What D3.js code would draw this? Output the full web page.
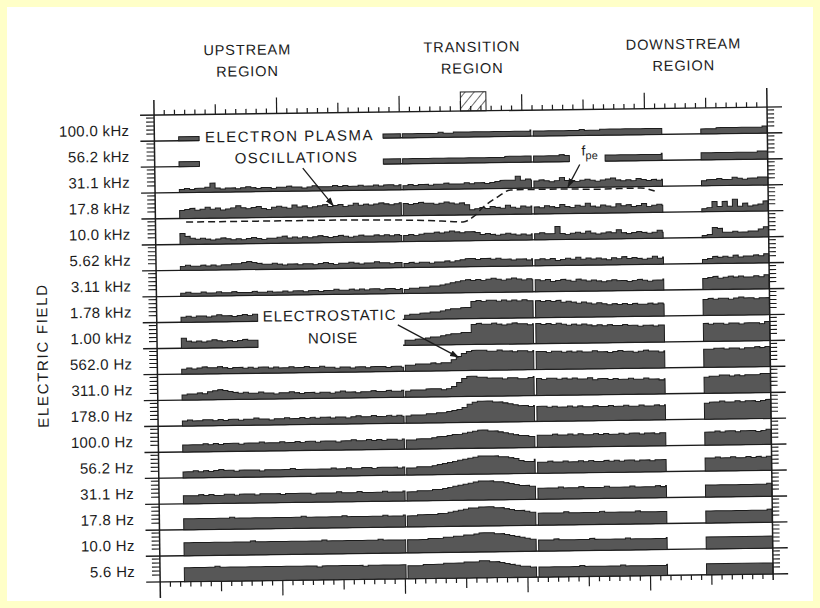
<!DOCTYPE html>
<html><head><meta charset="utf-8">
<script src="https://cdn.jsdelivr.net/npm/d3@7"></script>
<style>
html,body{margin:0;padding:0;background:#ffffc8;}
svg{display:block;}
text{font-family:"Liberation Sans",Arial,sans-serif;fill:#1c1c1c;}
</style></head><body>
<svg id="chart" width="820" height="608"></svg>
<script>
const _ = null;
// Channel labels (top to bottom)
const channelLabels = ["100.0 kHz","56.2 kHz","31.1 kHz","17.8 kHz","10.0 kHz","5.62 kHz","3.11 kHz","1.78 kHz","1.00 kHz",
  "562.0 Hz","311.0 Hz","178.0 Hz","100.0 Hz","56.2 Hz","31.1 Hz","17.8 Hz","10.0 Hz","5.6 Hz"];
const regionLabels = [["UPSTREAM","REGION"],["TRANSITION","REGION"],["DOWNSTREAM","REGION"]];
const regionCenters = [9.2, 31.2, 51.9];   // time units
// Time axis (arbitrary time units)
const timeDomain = [0, 60];
const segStarts = [2.38, 24.27, 37.09, 53.49];
const segEnds   = [24.08, 36.85, 49.67, 60];
const sampleStep = 0.5;
const transitionShade = [30, 32.5];
// plasma frequency (dashed curve)
const fpeTime = [3.0, 10, 17, 24, 28, 30.1, 31.1, 32.1, 33.5, 34.8, 37, 39.6, 43.5, 47.5, 48.9];
const fpeKHz  = [16.4, 16.4, 16.4, 16.1, 15.6, 15.2, 16.9, 21.0, 26.1, 30.4, 30.6, 30.6, 30.2, 30.6, 28.5];

// amplitude per channel, four data segments each (sampled every 0.5 time units)
const amp_100_0kHz = [
 [4,4,4,4,_,_,_,_,_,_,_,_,_,_,_,_,_,_,_,_,_,_,_,_,_,_,_,_,_,_,_,_,_,_,_,_,_,_,_,_,4,4,4,4],
 [4,4,4,4,4,4,4,5,4,4,5,5,5,5,5,5,5,5,5,5,5,5,5,5,5,6],
 [5,5,5,5,5,5,5,5,5,6,5,5,5,6,6,6,6,6,6,6,6,6,6,6,6,6],
 [5,5,5,6,6,6,6,6,6,6,6,6,7]];
const amp_56_2kHz = [
 [5,5,5,5,_,_,_,_,_,_,_,_,_,_,_,_,_,_,_,_,_,_,_,_,_,_,_,_,_,_,_,_,_,_,_,_,_,_,_,_,5,5,5,5],
 [5,5,5,5,5,5,5,5,5,5,5,5,5,5,5,5,5,5,5,5,6,6,6,6,6,6],
 [6,6,6,6,6,7,6,_,_,_,_,_,_,_,6,6,6,6,6,6,6,6,6,6,6,7],
 [7,7,7,7,7,7,7,7,7,7,7,8,8]];
const amp_31_1kHz = [
 [3,4,3,4,4,5,9,4,3,4,4,3,4,5,4,3,4,4,3,4,4,5,4,4,3,4,5,4,4,4,5,4,5,4,4,5,4,4,5,4,5,5,4,5],
 [4,5,4,5,5,4,5,5,6,5,5,5,6,5,6,6,5,6,7,8,8,8,12,8,9,8],
 [7,8,7,6,7,10,7,7,6,7,8,7,6,7,8,9,7,6,7,6,8,7,6,7,6,7],
 [5,6,6,7,6,6,8,7,6,7,7,8,8]];
const amp_17_8kHz = [
 [8,9,10,8,9,11,9,10,8,9,10,12,10,9,10,11,9,8,10,11,10,9,12,10,11,9,10,11,12,10,11,12,10,11,13,11,12,11,12,13,12,11,12,13],
 [12,11,12,13,12,12,11,12,13,12,11,12,10,5,6,7,6,8,7,6,9,7,6,8,7,8],
 [7,6,8,7,6,9,7,6,8,7,10,7,6,8,7,6,9,7,8,6,7,9,6,7,8,7],
 [3,4,10,5,10,5,12,5,8,5,6,7,10]];
const amp_10_0kHz = [
 [11,8,6,5,6,5,4,5,6,5,4,5,4,5,6,5,4,5,5,6,7,5,6,5,6,5,6,7,6,5,6,7,6,5,6,7,6,6,7,6,7,6,7,6],
 [6,7,6,7,8,8,9,8,9,10,9,8,9,9,8,6,7,6,5,6,7,6,5,6,5,6],
 [6,7,6,6,13,6,5,6,7,6,8,6,5,6,7,6,9,6,5,6,7,6,5,6,8,6],
 [2,3,10,9,5,5,6,5,5,6,6,8,10]];
const amp_5_62kHz = [
 [4,5,4,4,5,4,5,4,5,5,6,6,7,8,7,6,5,5,6,5,4,5,5,4,5,5,4,5,6,5,4,5,5,6,5,4,5,5,6,5,5,4,5,5],
 [4,5,4,5,5,4,5,5,6,5,6,7,8,8,7,8,8,7,8,7,7,6,7,7,6,7],
 [6,7,6,7,5,6,7,6,8,6,7,6,7,6,5,7,6,8,6,7,6,5,6,8,6,7],
 [4,5,7,6,7,6,8,6,7,7,8,7,9]];
const amp_3_11kHz = [
 [3,4,3,3,4,3,3,4,3,3,4,3,3,3,4,3,3,4,3,3,4,3,4,4,3,4,4,3,4,4,5,4,4,5,4,5,4,5,5,4,5,5,4,5],
 [4,5,5,6,6,7,7,8,9,10,11,12,13,12,13,12,13,14,13,12,13,14,13,12,13,12],
 [12,11,12,10,11,12,11,10,12,11,10,11,10,9,10,11,10,10,9,10,11,10,9,10,10,11],
 [11,12,13,11,12,13,12,13,12,12,13,12,14]];
const amp_1_78kHz = [
 [5,6,5,6,6,5,6,7,6,6,5,6,7,6,7,_,_,_,_,_,_,_,_,_,_,_,_,_,_,_,_,_,_,_,_,_,_,_,_,_,_,_,_,_],
 [4,5,5,6,6,7,7,8,9,10,10,11,11,17,18,17,18,18,17,18,17,18,17,18,17,17],
 [17,16,17,16,17,15,16,15,14,15,14,13,14,13,12,13,12,13,12,13,12,12,13,12,13,12],
 [16,17,16,17,17,16,17,18,17,17,16,17,17]];
const amp_1_00kHz = [
 [10,7,6,7,6,7,8,7,6,7,6,7,8,7,7,_,_,_,_,_,_,_,_,_,_,_,_,_,_,_,_,_,_,_,_,_,_,_,_,_,_,_,_,_],
 [5,5,6,6,7,8,8,9,10,11,11,12,12,20,21,20,20,21,20,19,20,21,20,20,19,20],
 [20,19,20,19,20,19,18,19,18,19,18,17,18,17,18,17,17,18,17,17,16,17,17,16,17,17],
 [18,17,18,18,17,18,18,17,18,18,18,17,19]];
const amp_562Hz = [
 [5,6,5,6,7,6,6,7,6,5,6,6,5,6,5,6,6,5,6,5,5,6,5,5,6,5,5,6,5,5,4,5,5,4,5,5,4,5,5,5,4,5,5,4],
 [6,6,7,7,7,8,7,8,8,11,14,17,19,20,20,20,19,19,20,19,19,18,19,19,18,19],
 [18,18,17,18,18,17,18,17,18,17,17,18,17,17,16,17,18,17,17,16,17,18,17,17,16,17],
 [18,18,19,19,18,19,19,18,19,19,20,19,20]];
const amp_311Hz = [
 [5,6,6,7,6,8,9,10,9,8,7,6,7,6,6,7,6,6,5,6,6,7,6,5,6,6,5,6,6,5,6,7,6,6,5,6,6,7,6,6,7,6,6,7],
 [6,7,7,7,8,8,8,7,8,10,14,18,20,20,19,19,18,18,18,17,18,18,17,17,18,19],
 [17,16,17,17,16,17,16,17,16,16,17,15,16,16,15,16,15,15,16,15,15,16,15,15,14,15],
 [16,17,17,18,18,17,18,17,18,18,18,19,19]];
const amp_178Hz = [
 [5,6,5,5,6,6,5,6,5,6,6,5,6,6,7,6,6,5,6,6,7,6,6,7,6,7,6,7,7,6,7,7,6,7,8,7,7,8,7,7,8,7,8,7],
 [7,8,8,8,9,9,10,10,11,12,13,15,18,20,21,21,21,20,20,19,18,17,16,16,15,16],
 [15,15,14,15,14,14,15,14,15,14,14,15,14,14,15,14,14,15,14,14,15,14,14,15,14,15],
 [16,17,17,18,17,17,18,17,18,18,17,18,19]];
const amp_100Hz = [
 [7,7,7,7,8,7,8,7,8,8,8,7,8,8,8,9,8,8,8,9,8,8,9,8,9,9,8,9,9,9,8,9,9,10,9,9,10,9,10,9,10,10,9,10],
 [9,9,10,10,10,11,12,12,13,14,14,15,16,17,18,18,17,17,16,15,14,13,12,12,11,11],
 [12,12,12,13,12,12,13,12,13,12,12,13,12,13,12,12,13,12,13,13,12,13,13,12,13,13],
 [13,13,14,13,14,14,13,14,14,14,13,14,15]];
const amp_56_2Hz = [
 [6,6,7,6,7,6,7,8,7,7,6,7,7,7,7,6,7,7,7,7,7,8,7,7,7,7,7,7,7,8,7,7,8,7,7,8,8,7,8,8,8,8,7,8],
 [7,7,8,8,8,9,10,11,12,13,14,15,16,17,18,18,18,18,17,17,16,15,13,12,12,14],
 [11,11,12,11,11,12,11,11,12,11,12,11,11,12,11,12,11,12,12,11,12,12,11,12,12,12],
 [13,13,14,13,13,14,13,13,14,13,14,13,14]];
const amp_31_1Hz = [
 [8,8,8,9,8,9,8,8,9,9,8,9,9,9,8,9,9,9,9,8,9,9,9,9,9,8,9,9,9,9,10,9,9,9,10,9,9,9,9,10,9,9,9,10],
 [9,9,10,10,10,11,11,12,13,14,15,16,17,18,19,19,19,18,18,17,16,15,14,14,13,13],
 [11,11,11,11,12,11,11,11,12,11,11,11,11,12,11,11,11,11,12,11,11,11,11,12,11,12],
 [12,12,12,12,12,12,12,12,12,12,12,12,13]];
const amp_17_8Hz = [
 [11,11,11,11,11,11,11,11,11,12,11,11,11,11,11,11,11,11,11,11,11,11,11,12,11,11,11,11,11,11,11,12,11,11,11,11,11,11,11,12,11,11,11,12],
 [11,11,12,12,12,12,13,13,14,15,16,17,18,18,19,19,19,18,18,17,16,15,15,14,13,13],
 [12,12,12,12,12,13,12,12,12,12,12,12,13,12,12,12,12,12,12,13,12,12,12,12,12,12],
 [12,12,12,12,12,12,12,12,12,12,12,12,13]];
const amp_10_0Hz = [
 [13,13,13,13,13,13,13,13,13,13,13,13,13,14,13,13,13,13,13,13,13,13,13,13,13,13,13,14,13,13,13,13,13,13,13,13,13,13,14,13,13,13,13,13],
 [13,13,13,13,14,14,14,15,15,16,16,17,17,18,19,19,19,18,18,17,16,15,14,13,12,12],
 [11,11,11,12,11,11,11,11,11,11,12,11,11,11,11,11,11,12,11,11,11,11,11,11,11,12],
 [12,12,12,12,12,12,12,12,12,12,12,12,12]];
const amp_5_6Hz = [
 [14,14,14,14,14,14,15,14,14,14,14,14,14,14,14,14,14,14,14,14,14,14,14,14,14,14,13,14,14,14,14,14,14,14,14,13,14,14,14,14,14,14,14,14],
 [13,13,13,14,14,14,14,15,15,15,15,16,16,16,17,17,16,16,15,14,13,12,11,11,10,10],
 [10,10,10,10,10,10,10,10,11,10,10,10,10,10,10,10,11,10,10,10,10,10,10,10,10,11],
 [11,11,11,11,11,11,11,11,11,11,11,11,11]];

const channelData = [amp_100_0kHz,amp_56_2kHz,amp_31_1kHz,amp_17_8kHz,amp_10_0kHz,amp_5_62kHz,amp_3_11kHz,amp_1_78kHz,amp_1_00kHz,
  amp_562Hz,amp_311Hz,amp_178Hz,amp_100Hz,amp_56_2Hz,amp_31_1Hz,amp_17_8Hz,amp_10_0Hz,amp_5_6Hz];

// ---------- drawing ----------
const W = 820, H = 608;
const svg = d3.select('#chart');
svg.append('rect').attr('width',W).attr('height',H).attr('fill','#ffffc8');
svg.append('rect').attr('x',7).attr('y',7).attr('width',W-14).attr('height',H-14).attr('fill','#ffffff');

const defs = svg.append('defs');
defs.append('marker').attr('id','ah').attr('viewBox','0 0 10 10').attr('refX',9).attr('refY',5)
  .attr('markerWidth',9).attr('markerHeight',9).attr('markerUnits','userSpaceOnUse').attr('orient','auto')
  .append('path').attr('d','M0,1.5 L10,5 L0,8.5 Z').attr('fill','#1c1c1c');
const hp = defs.append('pattern').attr('id','hatch').attr('patternUnits','userSpaceOnUse')
  .attr('width',7).attr('height',7).attr('patternTransform','rotate(40)');
hp.append('line').attr('x1',0).attr('y1',0).attr('x2',0).attr('y2',7).attr('stroke','#1c1c1c').attr('stroke-width',1.3);

const g = svg.append('g').attr('transform','rotate(-0.75,157,340)');

const x = d3.scaleLinear().domain(timeDomain).range([157, 770]);
const yBase = d3.scalePoint().domain(channelLabels).range([141, 582]);
const bandH = yBase.step();
const yTop = yBase(channelLabels[0]) - bandH;
const amp = d3.scaleLinear().domain([0, 26]).range([0, bandH]);
const lineExt = [x(timeDomain[0]) - 14, x(timeDomain[1]) + 15];
const ink = '#1c1c1c';

// data fills + baselines
channelData.forEach((segs, ci) => {
  const b = yBase(channelLabels[ci]);
  const gaps = [];
  const runs = [];
  segs.forEach((vals, si) => {
    let cur = null;
    vals.forEach((v, j) => {
      const t0 = segStarts[si] + sampleStep * j;
      if (t0 >= segEnds[si]) return;
      const t1 = Math.min(t0 + sampleStep, segEnds[si]);
      if (v == null) { gaps.push([t0, t1]); if (cur) { runs.push(cur); cur = null; } return; }
      if (!cur) cur = [];
      cur.push({t: t0, v: v, end: t1});
    });
    if (cur) runs.push(cur);
  });
  // baseline pieces (skip channel gaps)
  let pieces = [[lineExt[0], lineExt[1]]];
  gaps.forEach(([a, c]) => {
    const xa = x(a), xc = x(c);
    const np = [];
    pieces.forEach(([p, q]) => {
      if (xc <= p || xa >= q) { np.push([p, q]); return; }
      if (xa > p) np.push([p, xa]);
      if (xc < q) np.push([xc, q]);
    });
    pieces = np;
  });
  pieces.forEach(([p, q]) => {
    g.append('line').attr('x1', p).attr('x2', q).attr('y1', b).attr('y2', b)
      .attr('stroke', ink).attr('stroke-width', 1.4);
  });
  const area = d3.area().x(d => x(d.t)).y0(b).y1(d => b - amp(d.v)).curve(d3.curveStepAfter);
  runs.forEach(r => {
    const pts = r.concat([{t: r[r.length - 1].end, v: r[r.length - 1].v}]);
    g.append('path').attr('d', area(pts)).attr('fill', '#575757').attr('stroke', ink)
      .attr('stroke-width', 1).attr('stroke-linejoin', 'miter');
  });
  // left / right amplitude ticks
  [7, 11, 15, 19, 23].forEach(a => {
    g.append('line').attr('x1', x(0) - 8).attr('x2', x(0)).attr('y1', b - a).attr('y2', b - a)
      .attr('stroke', ink).attr('stroke-width', 1.1);
    g.append('line').attr('x1', x(60)).attr('x2', x(60) + 7).attr('y1', b - a).attr('y2', b - a)
      .attr('stroke', ink).attr('stroke-width', 1.1);
  });
  // channel label
  g.append('text').attr('x', 132).attr('y', b - 11).attr('text-anchor', 'end')
    .attr('dominant-baseline', 'central').attr('font-size', 15).attr('letter-spacing', 0.3)
    .text(channelLabels[ci]);
});

// top axis line
g.append('line').attr('x1', lineExt[0]).attr('x2', lineExt[1]).attr('y1', yTop).attr('y2', yTop)
  .attr('stroke', ink).attr('stroke-width', 1.4);
// vertical axes
g.append('line').attr('x1', x(0)).attr('x2', x(0)).attr('y1', yTop - 15).attr('y2', yBase(channelLabels[17]) + 16)
  .attr('stroke', ink).attr('stroke-width', 1.5);
g.append('line').attr('x1', x(60)).attr('x2', x(60)).attr('y1', yTop - 19).attr('y2', yBase(channelLabels[17]) + 6)
  .attr('stroke', ink).attr('stroke-width', 1.5);
// time ticks
const yBot = yBase(channelLabels[17]);
d3.range(1, 60).forEach(k => {
  let lt = 5, lb = 5;
  if (k % 6 === 0) { const tall = (k / 6) % 2 === 0; lt = tall ? 16 : 10; lb = tall ? 15 : 10; }
  g.append('line').attr('x1', x(k)).attr('x2', x(k)).attr('y1', yTop).attr('y2', yTop - lt)
    .attr('stroke', ink).attr('stroke-width', 1.2);
  g.append('line').attr('x1', x(k)).attr('x2', x(k)).attr('y1', yBot).attr('y2', yBot + lb)
    .attr('stroke', ink).attr('stroke-width', 1.2);
});
// transition hatched box
g.append('rect').attr('x', x(transitionShade[0])).attr('y', yTop - 19)
  .attr('width', x(transitionShade[1]) - x(transitionShade[0])).attr('height', 19)
  .attr('fill', 'url(#hatch)').attr('stroke', ink).attr('stroke-width', 1);

// fpe dashed curve
const fy = d3.scaleLog().domain([100000, 10]).range([yBase(channelLabels[0]), yBase(channelLabels[16])]);
const fpeLine = d3.line().x((d, i) => x(fpeTime[i])).y(d => fy(d * 1000)).curve(d3.curveMonotoneX);
g.append('path').attr('d', fpeLine(fpeKHz)).attr('fill', 'none').attr('stroke', ink)
  .attr('stroke-width', 1.5).attr('stroke-dasharray', '7,4');

// region headings
regionLabels.forEach((lines, i) => {
  lines.forEach((s, j) => {
    g.append('text').attr('x', x(regionCenters[i])).attr('y', 51 + j * 21.5).attr('text-anchor', 'middle')
      .attr('dominant-baseline', 'central').attr('font-size', 14.5).attr('letter-spacing', 0.9).text(s);
  });
});

// annotations
function label(s, xx, yy, ls) {
  g.append('text').attr('x', xx).attr('y', yy).attr('dominant-baseline', 'central')
    .attr('font-size', 15).attr('letter-spacing', ls).text(s);
}
label('ELECTRON PLASMA', 207.5, 137.5, 1.5);
label('OSCILLATIONS', 237, 159, 1.3);
label('ELECTROSTATIC', 263, 317.5, 0.9);
label('NOISE', 308, 340, 0.6);
const fl = g.append('text').attr('x', 584).attr('y', 156).attr('dominant-baseline', 'central').attr('font-size', 14);
fl.append('tspan').text('f');
fl.append('tspan').attr('font-size', 11).attr('dy', 5).text('pe');
function arrow(x1, y1, x2, y2) {
  g.append('line').attr('x1', x1).attr('y1', y1).attr('x2', x2).attr('y2', y2)
    .attr('stroke', ink).attr('stroke-width', 1.3).attr('marker-end', 'url(#ah)');
}
arrow(305, 170, 335, 208);
arrow(582, 170, 570, 192);
arrow(398, 328, 458, 361);

// y title
g.append('text').attr('transform', 'translate(42,354) rotate(-90)').attr('text-anchor', 'middle')
  .attr('dominant-baseline', 'central').attr('font-size', 15).attr('letter-spacing', 1.7).text('ELECTRIC FIELD');
</script>
</body></html>
